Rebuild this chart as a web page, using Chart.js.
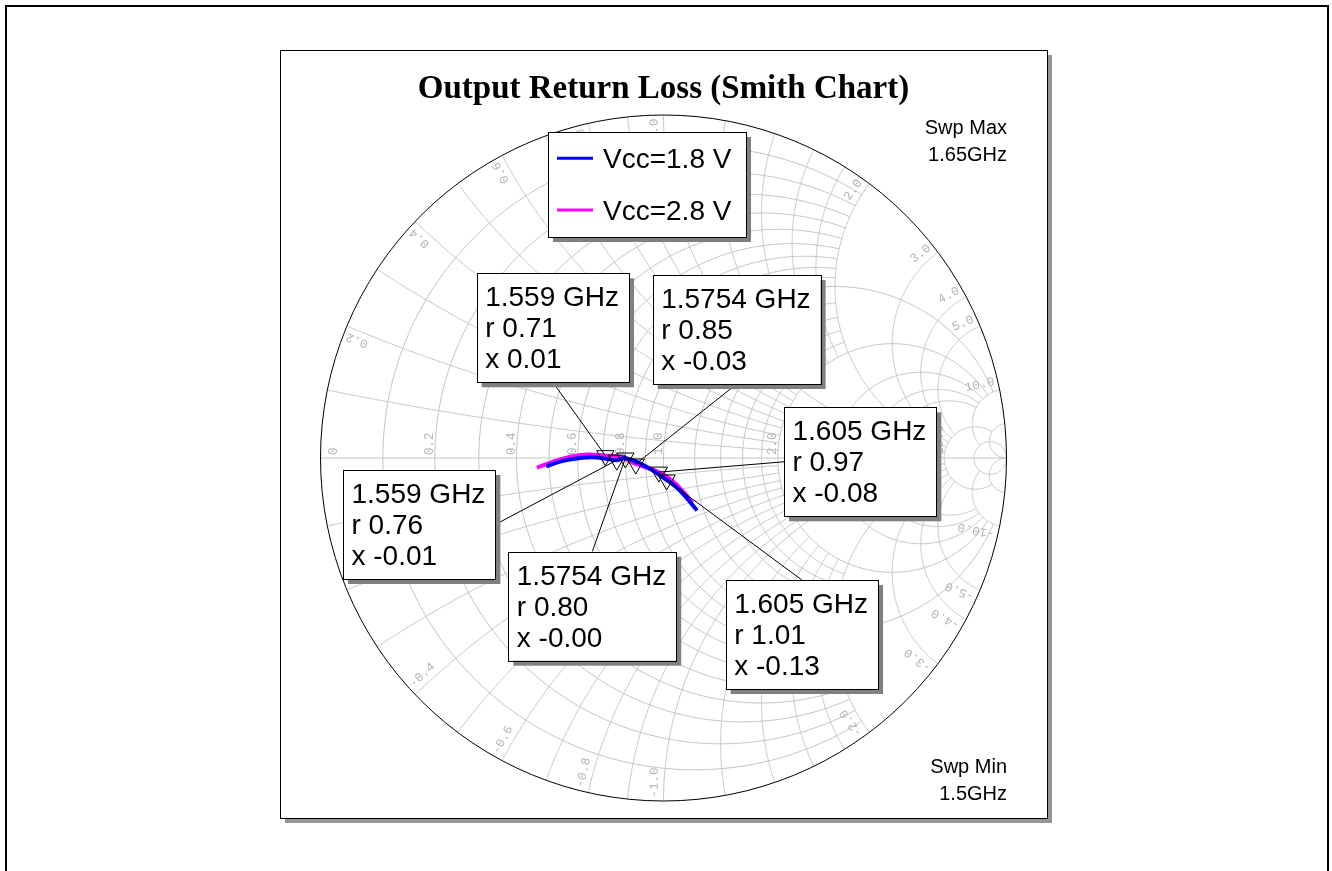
<!DOCTYPE html>
<html>
<head>
<meta charset="utf-8">
<script src="https://cdn.jsdelivr.net/npm/chart.js@4.4.1/dist/chart.umd.min.js"></script>
<style>
  html, body { margin: 0; padding: 0; background: #fff; }
  canvas { display: block; }
</style>
</head>
<body>
<canvas id="smith" width="1332" height="871"></canvas>
<script>
// ---- data -------------------------------------------------------------
const chartTitle = 'Output Return Loss (Smith Chart)';
const seriesNames = ['Vcc=1.8 V', 'Vcc=2.8 V'];

// Normalized impedance along each sweep, 1.5 GHz -> 1.65 GHz
const traceR_18 = [0.49, 0.547, 0.609, 0.675, 0.76, 0.80, 0.902, 1.01, 1.080, 1.155];
const traceX_18 = [-0.027, -0.010, 0.0, 0.002, -0.01, -0.0, -0.045, -0.13, -0.207, -0.366];
const traceR_28 = [0.46, 0.513, 0.572, 0.635, 0.71, 0.775, 0.85, 0.97, 1.042, 1.108, 1.139];
const traceX_28 = [-0.030, -0.012, 0.005, 0.014, 0.01, 0.005, -0.03, -0.08, -0.137, -0.233, -0.303];

// Marker readouts
const markerFreqs = ['1.559 GHz', '1.5754 GHz', '1.605 GHz'];
const markerR_18 = [0.76, 0.80, 1.01];
const markerX_18 = [-0.01, -0.00, -0.13];
const markerR_28 = [0.71, 0.85, 0.97];
const markerX_28 = [0.01, -0.03, -0.08];

const sweepMax = ['Swp Max', '1.65GHz'];
const sweepMin = ['Swp Min', '1.5GHz'];

// Smith grid: [value, clip limit on the other coordinate]
const gridResistance = [[0.1,2],[0.2,2],[0.3,2],[0.4,2],[0.5,2],[0.6,2],[0.7,2],[0.8,2],[0.9,2],[1,10],
  [1.2,2],[1.4,2],[1.6,2],[1.8,2],[2,10],[3,10],[4,10],[5,10],[10,20],[20,Infinity]];
const gridReactance = [[0.1,2],[0.2,2],[0.3,2],[0.4,2],[0.5,2],[0.6,2],[0.7,2],[0.8,2],[0.9,2],[1,10],
  [1.2,2],[1.4,2],[1.6,2],[1.8,2],[2,10],[3,10],[4,10],[5,10],[10,20],[20,Infinity]];
const resistanceLabels = [0, 0.2, 0.4, 0.6, 0.8, 1.0, 2.0, 3.0, 4.0, 5.0, 10.0];
const reactanceLabels = [0.2, 0.4, 0.6, 0.8, 1.0, 2.0, 3.0, 4.0, 5.0, 10.0];

// ---- helpers ----------------------------------------------------------
function toGamma(r, x) {
  const d = (r + 1) * (r + 1) + x * x;
  return { x: (r * r - 1 + x * x) / d, y: 2 * x / d };
}
function fmt(v) {
  const neg = v < 0 || Object.is(v, -0);
  return (neg ? '-' : '') + Math.abs(v).toFixed(2);
}
const toPoints = (rs, xs) => rs.map((r, i) => toGamma(r, xs[i]));

// ---- annotation layout (pixels) ---------------------------------------
const panel = { left: 280, top: 50, right: 1047, bottom: 818, shadow: 5 };
const legendBox = { left: 548, top: 132, right: 746, bottom: 237 };
const boxFont = '28px "Liberation Sans", Arial, sans-serif';
const markerBoxes = [
  { series: 1, idx: 0, left: 476.7, top: 273.3, anchor: 'bottom' },
  { series: 1, idx: 1, left: 652.7, top: 275,   anchor: 'bottom' },
  { series: 1, idx: 2, left: 784,   top: 407.3, anchor: 'left' },
  { series: 0, idx: 0, left: 343,   top: 470,   anchor: 'right' },
  { series: 0, idx: 1, left: 508.3, top: 551.7, anchor: 'top' },
  { series: 0, idx: 2, left: 725.7, top: 580,   anchor: 'top' }
];

const markerSets = [
  { r: markerR_18, x: markerX_18 },
  { r: markerR_28, x: markerX_28 }
];

// ---- smith chart plugin -----------------------------------------------
const smithPlugin = {
  id: 'smithChart',
  beforeDatasetsDraw(chart) {
    const { ctx } = chart;
    const sx = chart.scales.x, sy = chart.scales.y;
    const px = v => sx.getPixelForValue(v), py = v => sy.getPixelForValue(v);
    const cx = px(0), cy = py(0), R = px(1) - px(0);

    ctx.save();
    // page border
    ctx.strokeStyle = '#000';
    ctx.lineWidth = 2;
    ctx.strokeRect(6, 6, 1322, 900);

    // panel with drop shadow
    const pw = panel.right - panel.left, ph = panel.bottom - panel.top;
    ctx.fillStyle = '#969696';
    ctx.fillRect(panel.left + panel.shadow, panel.top + panel.shadow, pw, ph);
    ctx.fillStyle = '#fff';
    ctx.fillRect(panel.left, panel.top, pw, ph);
    ctx.strokeStyle = '#000';
    ctx.lineWidth = 1;
    ctx.strokeRect(panel.left + 0.5, panel.top + 0.5, pw, ph);

    // title
    ctx.fillStyle = '#000';
    ctx.font = 'bold 33px "Liberation Serif", "Times New Roman", serif';
    ctx.textAlign = 'center';
    ctx.textBaseline = 'alphabetic';
    ctx.fillText(chartTitle, cx, 98);

    // sweep limits
    ctx.font = '20px "Liberation Sans", Arial, sans-serif';
    ctx.textAlign = 'right';
    ctx.fillText(sweepMax[0], 1007, 133.5);
    ctx.fillText(sweepMax[1], 1007, 160.5);
    ctx.fillText(sweepMin[0], 1007, 773.3);
    ctx.fillText(sweepMin[1], 1007, 800);

    // grid
    const strokePts = pts => {
      ctx.beginPath();
      pts.forEach((p, i) => {
        const X = px(p.x), Y = py(p.y);
        if (i === 0) ctx.moveTo(X, Y); else ctx.lineTo(X, Y);
      });
      ctx.stroke();
    };
    ctx.strokeStyle = '#c4c4c4';
    ctx.lineWidth = 1;
    const n = 360;
    gridResistance.forEach(([r, lim]) => {
      const psiMax = isFinite(lim) ? Math.atan(lim / (r + 1)) : Math.PI / 2;
      const pts = [];
      for (let i = 0; i <= n; i++) {
        const psi = -psiMax + 2 * psiMax * i / n;
        if (Math.abs(Math.abs(psi) - Math.PI / 2) < 1e-9) { pts.push({ x: 1, y: 0 }); continue; }
        pts.push(toGamma(r, (r + 1) * Math.tan(psi)));
      }
      strokePts(pts);
    });
    gridReactance.forEach(([xv, lim]) => {
      [xv, -xv].forEach(x => {
        const b0 = Math.atan(x), b1 = isFinite(lim) ? Math.atan(x / (lim + 1)) : 0;
        const pts = [];
        for (let i = 0; i <= n; i++) {
          const b = b0 + (b1 - b0) * i / n;
          if (Math.abs(b) < 1e-12) { pts.push({ x: 1, y: 0 }); continue; }
          pts.push(toGamma(x / Math.tan(b) - 1, x));
        }
        strokePts(pts);
      });
    });
    // real axis
    ctx.beginPath();
    ctx.moveTo(px(-1), cy);
    ctx.lineTo(px(1), cy);
    ctx.stroke();

    // grid labels
    ctx.fillStyle = '#b4b4b4';
    ctx.font = '12.5px "Liberation Mono", "DejaVu Sans Mono", monospace';
    ctx.textBaseline = 'alphabetic';
    resistanceLabels.forEach(r => {
      const g = (r - 1) / (r + 1);
      let X = px(g) - 1.5;
      if (r === 0) X += 18;
      ctx.save();
      ctx.translate(X, cy - 3);
      ctx.rotate(-Math.PI / 2);
      ctx.textAlign = 'left';
      ctx.fillText(r === 0 ? '0' : r.toFixed(1), 0, 0);
      ctx.restore();
    });
    const rText = 0.99 * R, off = 6;
    reactanceLabels.forEach(x => {
      const th = Math.PI - 2 * Math.atan(x);
      // upper half: reads outward, glyphs on the counter-clockwise side
      const a = th + off / rText;
      ctx.save();
      ctx.translate(cx + rText * Math.cos(a), cy - rText * Math.sin(a));
      ctx.rotate(-a);
      ctx.textAlign = 'right';
      ctx.fillText(x.toFixed(1), 0, 0);
      ctx.restore();
      // lower half: reads inward, glyphs on the clockwise side
      const b = -a;
      ctx.save();
      ctx.translate(cx + rText * Math.cos(b), cy - rText * Math.sin(b));
      ctx.rotate(-(b + Math.PI));
      ctx.textAlign = 'left';
      ctx.fillText('-' + x.toFixed(1), 0, 0);
      ctx.restore();
    });

    // outer circle
    ctx.strokeStyle = '#000';
    ctx.lineWidth = 1;
    ctx.beginPath();
    ctx.arc(cx, cy, R, 0, Math.PI * 2);
    ctx.stroke();
    ctx.restore();
  },
  afterDatasetsDraw(chart) {
    const { ctx } = chart;
    const sx = chart.scales.x, sy = chart.scales.y;
    const traces = chart.data.datasets.filter(d => d.isTrace);
    ctx.save();
    ctx.font = boxFont;
    ctx.textBaseline = 'alphabetic';
    ctx.textAlign = 'left';

    // marker readout boxes with leader lines
    markerBoxes.forEach(b => {
      const set = markerSets[b.series];
      const lines = [markerFreqs[b.idx], 'r ' + fmt(set.r[b.idx]), 'x ' + fmt(set.x[b.idx])];
      const w = Math.max(...lines.map(t => ctx.measureText(t).width)) + 18.5;
      const h = 109;
      const g = toGamma(set.r[b.idx], set.x[b.idx]);
      const mx = sx.getPixelForValue(g.x), my = sy.getPixelForValue(g.y);
      let ax, ay;
      if (b.anchor === 'bottom') { ax = b.left + w / 2; ay = b.top + h; }
      else if (b.anchor === 'top') { ax = b.left + w / 2; ay = b.top; }
      else if (b.anchor === 'left') { ax = b.left; ay = b.top + h / 2; }
      else { ax = b.left + w; ay = b.top + h / 2; }
      ctx.strokeStyle = '#000';
      ctx.lineWidth = 1;
      ctx.beginPath();
      ctx.moveTo(mx, my);
      ctx.lineTo(ax, ay);
      ctx.stroke();
      b._w = w; b._h = h; b._lines = lines;
    });
    markerBoxes.forEach(b => {
      ctx.fillStyle = '#808080';
      ctx.fillRect(b.left + 5, b.top + 5, b._w, b._h);
      ctx.fillStyle = '#fff';
      ctx.fillRect(b.left, b.top, b._w, b._h);
      ctx.strokeStyle = '#000';
      ctx.strokeRect(Math.round(b.left) + 0.5, Math.round(b.top) + 0.5, Math.round(b._w), Math.round(b._h));
      ctx.fillStyle = '#000';
      b._lines.forEach((t, i) => ctx.fillText(t, b.left + 8.5, b.top + 33 + 31 * i));
    });

    // legend
    const lw = legendBox.right - legendBox.left, lh = legendBox.bottom - legendBox.top;
    ctx.fillStyle = '#808080';
    ctx.fillRect(legendBox.left + 5, legendBox.top + 5, lw, lh);
    ctx.fillStyle = '#fff';
    ctx.fillRect(legendBox.left, legendBox.top, lw, lh);
    ctx.strokeStyle = '#000';
    ctx.strokeRect(legendBox.left + 0.5, legendBox.top + 0.5, lw, lh);
    const rows = [158.3, 210];
    traces.forEach((ds, i) => {
      ctx.strokeStyle = ds.borderColor;
      ctx.lineWidth = 3;
      ctx.beginPath();
      ctx.moveTo(557, rows[i]);
      ctx.lineTo(593, rows[i]);
      ctx.stroke();
      ctx.fillStyle = '#000';
      ctx.fillText(ds.label, 603, rows[i] + 9.5);
    });
    ctx.restore();
  }
};

const markerStyle = {
  showLine: false,
  pointStyle: 'triangle',
  rotation: 180,
  pointRadius: 10,
  pointBackgroundColor: 'rgba(0,0,0,0)',
  pointBorderColor: '#000',
  pointBorderWidth: 1
};

new Chart(document.getElementById('smith'), {
  type: 'scatter',
  data: {
    datasets: [
      Object.assign({ label: 'm18', data: toPoints(markerR_18, markerX_18) }, markerStyle),
      Object.assign({ label: 'm28', data: toPoints(markerR_28, markerX_28) }, markerStyle),
      { label: seriesNames[0], isTrace: true, data: toPoints(traceR_18, traceX_18), showLine: true,
        borderColor: '#0000ff', borderWidth: 4, pointRadius: 0, tension: 0.4, borderCapStyle: 'butt' },
      { label: seriesNames[1], isTrace: true, data: toPoints(traceR_28, traceX_28), showLine: true,
        borderColor: '#ff00ff', borderWidth: 4, pointRadius: 0, tension: 0.4, borderCapStyle: 'butt' }
    ]
  },
  options: {
    responsive: false,
    animation: false,
    devicePixelRatio: 1,
    layout: { padding: { left: 320.5, right: 325.5, top: 115, bottom: 70 } },
    scales: {
      x: { type: 'linear', min: -1, max: 1, display: false },
      y: { type: 'linear', min: -1, max: 1, display: false }
    },
    plugins: { legend: { display: false }, tooltip: { enabled: false }, title: { display: false } },
    events: []
  },
  plugins: [smithPlugin]
});
</script>
</body>
</html>
